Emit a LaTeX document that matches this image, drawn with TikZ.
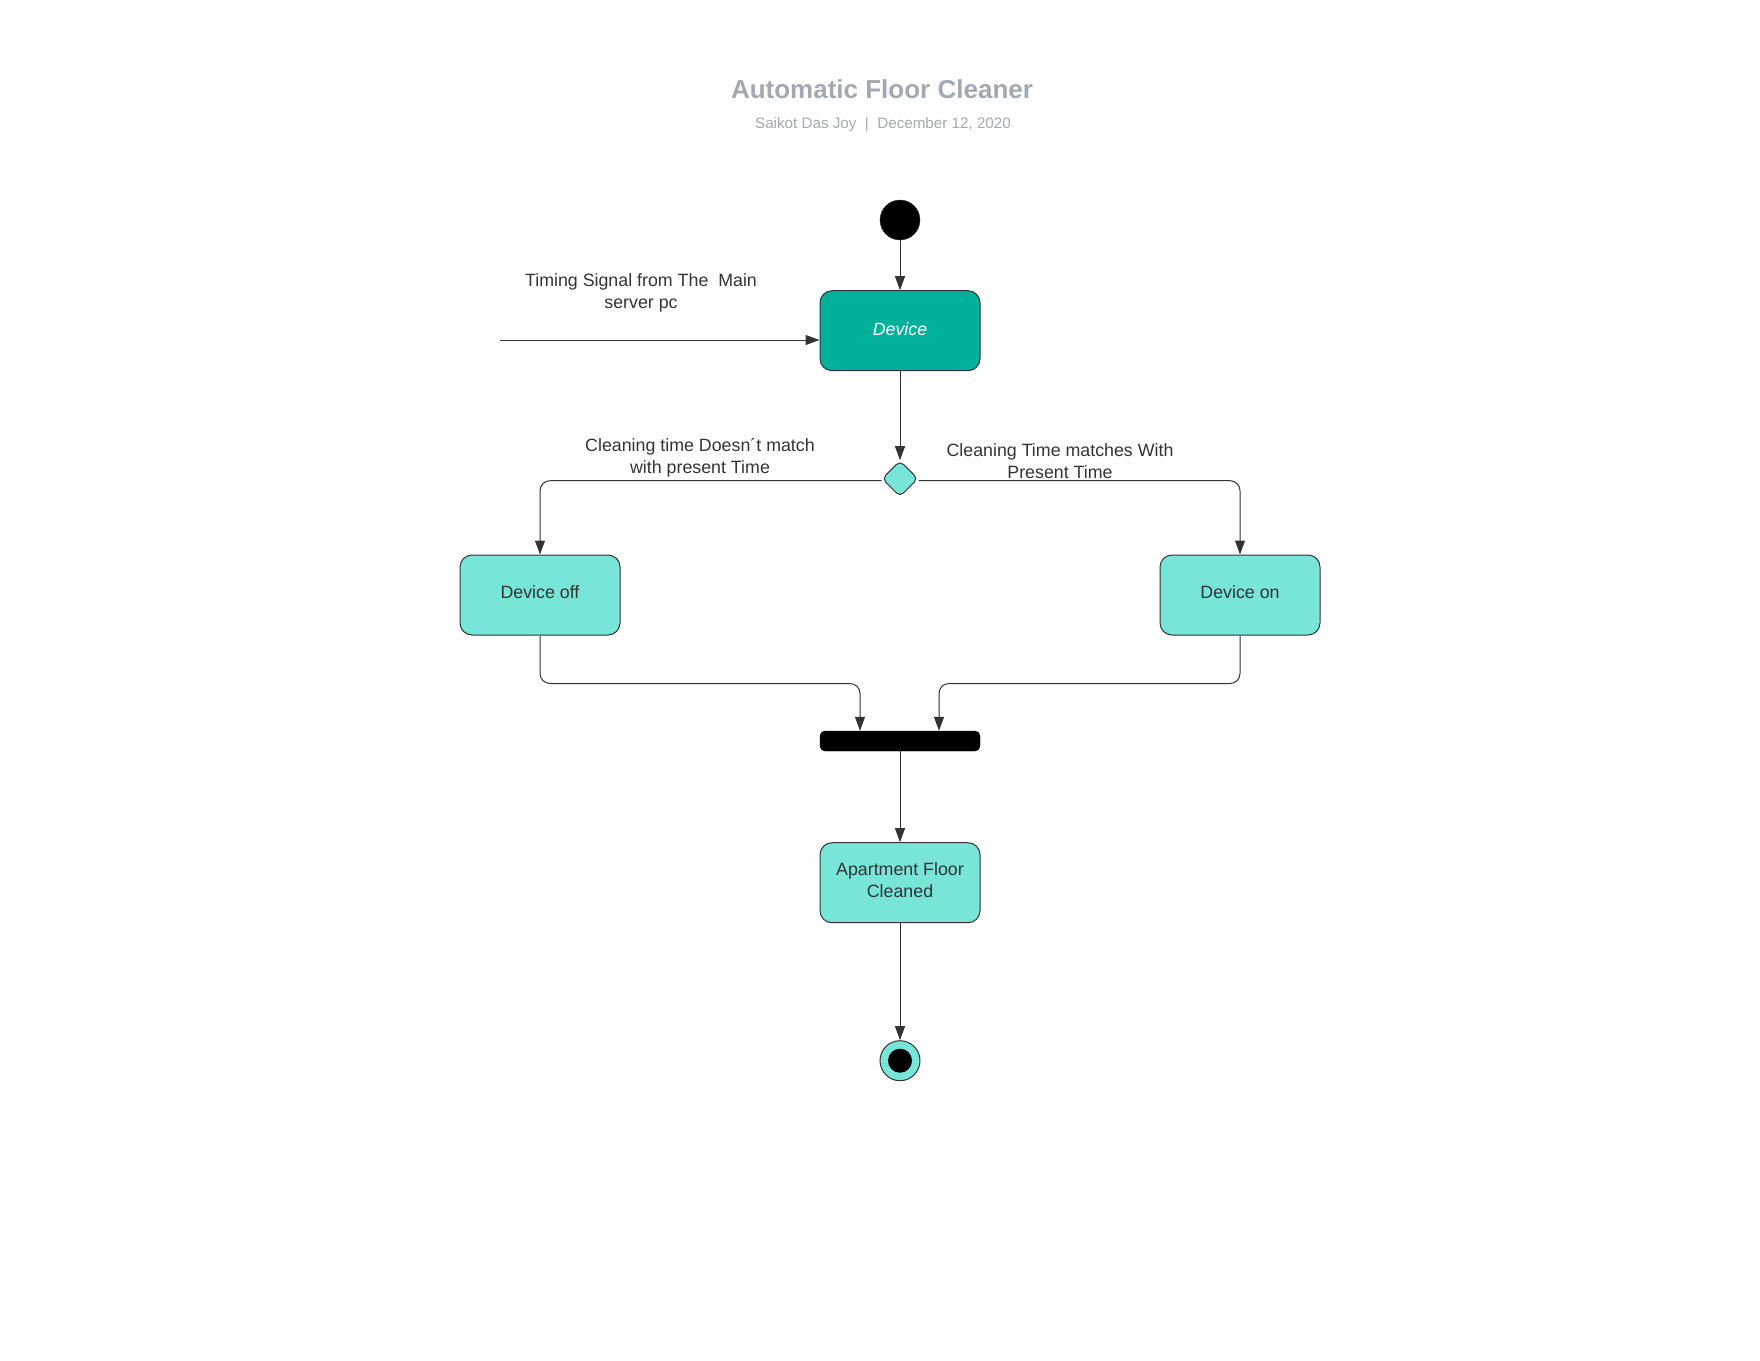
\documentclass[tikz,border=0pt]{standalone}
\usepackage{fontspec}
\setmainfont{Liberation Sans}
\usepackage{xcolor}
\usetikzlibrary{arrows.meta,calc,positioning,shapes.geometric}
\definecolor{ink}{RGB}{51,51,51}
\definecolor{titlegray}{RGB}{163,169,179}
\definecolor{c1}{RGB}{0,176,155}
\definecolor{c2}{RGB}{119,229,216}
\tikzset{
  actbox/.style={draw=ink, rounded corners=12pt, minimum width=160pt, minimum height=80pt, align=center, line width=1pt, text=ink, text depth=5pt, font=\fontsize{17.8}{21.5}\selectfont},
  decision/.style={diamond, aspect=1, draw=ink, fill=c2, minimum size=36pt, inner sep=0pt, rounded corners=5pt, line width=1pt},
  joinbar/.style={draw=black, fill=black, minimum width=160pt, minimum height=20pt, inner sep=0pt, rounded corners=5pt},
  startdot/.style={circle, draw=ink, fill=black, minimum size=40pt, inner sep=0pt},
  enddot/.style={circle, draw=ink, fill=c2, minimum size=40pt, inner sep=0pt, line width=1pt},
  enddotcore/.style={circle, fill=black, minimum size=24pt, inner sep=0pt},
  edge/.style={-{Triangle[length=14pt,width=10pt]}, draw=ink, line width=1pt, rounded corners=10pt},
  note/.style={text=ink, align=center, font=\fontsize{17.8}{21.5}\selectfont},
  title/.style={text=titlegray, font=\fontsize{26}{31}\selectfont\bfseries},
  subtitle/.style={text=titlegray, font=\fontsize{15.2}{18}\selectfont}
}
\begin{document}
\begin{tikzpicture}[x=1pt, y=-1pt]
    \useasboundingbox (0,0) rectangle (1760,1360);
    % Title
    \node[title] (title) at (882,89) {Automatic Floor Cleaner};
    \node[subtitle] (subtitle) at (883,125) {Saikot Das Joy~~|~~December 12, 2020};

    % Nodes
    \node[startdot] (start) at (900,220) {};
    \node[actbox, fill=c1, text=white, text depth=3pt, font=\fontsize{17.8}{21.5}\selectfont\itshape, below=50pt of start] (device) {Device};
    \node[decision, below=89pt of device] (choice) {};
    \node[actbox, fill=c2] (devoff) at (540,595) {Device off};
    \node[actbox, fill=c2] (devon) at (1240,595) {Device on};
    \node[joinbar] (join) at (900,741) {};
    \node[actbox, fill=c2, below=91pt of join] (cleaned) {Apartment Floor\\Cleaned};
    \node[enddot, below=117pt of cleaned] (finish) {};
    \node[enddotcore] (finishcore) at (finish) {};
    \coordinate (signal) at (500,340);

    % Labels
    \node[note] (signallbl) at (641,293) {Timing Signal from The~~Main\\server pc};
    \node[note] (nomatch) at (700,458) {Cleaning time Doesn´t match\\with present Time};
    \node[note] (match) at (1060,461) {Cleaning Time matches With\\Present Time};

    % Edges
    \draw[edge] (start) -- (device);
    \draw[edge] (signal) -- (signal -| device.west);
    \draw[edge] (device) -- (choice);
    \draw[edge] ($(choice.west)+(0,2)$) -| (devoff.north);
    \draw[edge] ($(choice.east)+(0,2)$) -| (devon.north);
    \draw[edge] (devoff.south) -- ++(0,48) -| ($(join.north)+(-40,0)$);
    \draw[edge] (devon.south) -- ++(0,48) -| ($(join.north)+(39,0)$);
    \draw[edge] (join) -- (cleaned);
    \draw[edge] (cleaned) -- (finish);
\end{tikzpicture}
\end{document}
